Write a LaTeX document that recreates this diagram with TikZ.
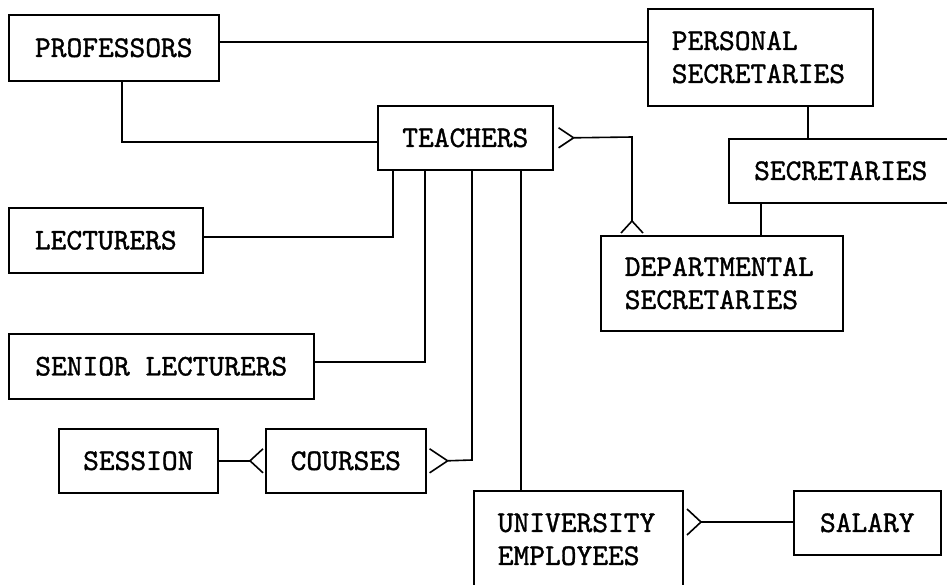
\documentclass[tikz,border=0pt]{standalone}
\usepackage{fontspec}
\usetikzlibrary{calc}
% slightly heavier typewriter face for the entity names
\newfontfamily\entfont{lmmono10-regular}[Extension=.otf, FakeBold=1.2]
\begin{document}
\begin{tikzpicture}[x=1pt,y=-1pt,
  entity/.style={draw, line width=1.6pt, anchor=north west, inner sep=0pt,
    font=\entfont\fontsize{30}{33}\selectfont},
  para/.style={align=left, inner xsep=24pt, text width=#1},
  link/.style={line width=1.6pt, line join=miter}]
\useasboundingbox (0,0) rectangle (947,584);

% entities
\node[entity, minimum width=210, minimum height=66] (prof) at (8,14) {PROFESSORS};
\node[entity, minimum width=225, minimum height=97, para=177] (pers) at (647,8) {PERSONAL\\SECRETARIES};
\node[entity, minimum width=175, minimum height=64] (teach) at (377,105) {TEACHERS};
\node[entity, minimum width=224, minimum height=64] (sec) at (728,138) {SECRETARIES};
\node[entity, minimum width=194, minimum height=65] (lect) at (8,207) {LECTURERS};
\node[entity, minimum width=242, minimum height=95, para=194] (dept) at (600,235) {DEPARTMENTAL\\SECRETARIES};
\node[entity, minimum width=305, minimum height=65] (senior) at (8,333) {SENIOR LECTURERS};
\node[entity, minimum width=159, minimum height=64] (session) at (58,428) {SESSION};
\node[entity, minimum width=160, minimum height=64] (courses) at (265,428) {COURSES};
\node[entity, minimum width=209, minimum height=97, para=161] (univ) at (473,490) {UNIVERSITY\\EMPLOYEES};
\node[entity, minimum width=147, minimum height=64] (salary) at (793,490) {SALARY};

% routing points
\coordinate (ytop) at (0,42);
\coordinate (pj) at (122,142);
\coordinate (tf) at ($(teach.east)+(20,0)$);
\coordinate (dj) at (632,137);
\coordinate (df) at (632,221);
\coordinate (sj) at (808,0);
\coordinate (sd) at (761,0);
\coordinate (lj) at (393,237);
\coordinate (snj) at (425,362);
\coordinate (cl) at ($(courses.west)+(-15,0)$);
\coordinate (cr) at ($(courses.east)+(21,0)$);
\coordinate (cj) at (472,460);
\coordinate (uj) at (521,0);
\coordinate (uf) at (701,522);

% relationships
\draw[link] (prof.east |- ytop) -- (pers.west |- ytop);
\draw[link] (prof.south -| pj) -- (pj) -- (teach.west |- pj);
\draw[link] (tf) -- (dj) -- (df);
\draw[link] (pers.south -| sj) -- (sec.north -| sj);
\draw[link] (sec.south -| sd) -- (dept.north -| sd);
\draw[link] (lect.east |- lj) -- (lj) -- (teach.south -| lj);
\draw[link] (senior.east |- snj) -- (snj) -- (teach.south -| snj);
\draw[link] (session.east) -- (cl);
\draw[link] (cr) -- (cj) -- (teach.south -| cj);
\draw[link] (univ.north -| uj) -- (teach.south -| uj);
\draw[link] (uf) -- (salary.west |- uf);

% crow's feet
\draw[link] (tf) -- ++(-15,-10) (tf) -- ++(-15,10);
\draw[link] (df) -- ++(-11,12) (df) -- ++(11,12);
\draw[link] (cl) -- ++(13,-12) (cl) -- ++(13,12);
\draw[link] (cr) -- ++(-18,-12) (cr) -- ++(-18,12);
\draw[link] (uf) -- ++(-14,-13) (uf) -- ++(-14,13);
\end{tikzpicture}
\end{document}
